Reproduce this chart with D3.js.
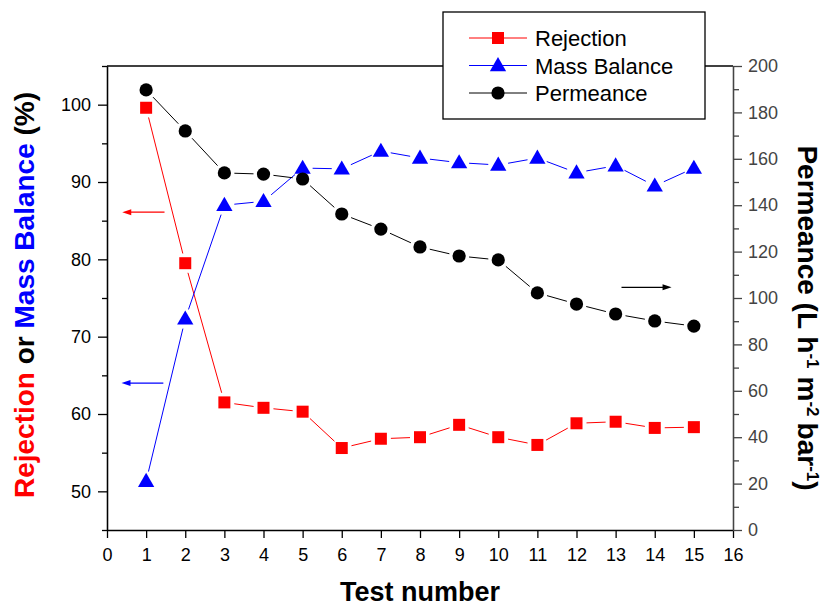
<!DOCTYPE html>
<html>
<head>
<meta charset="utf-8">
<script src="https://cdn.jsdelivr.net/npm/d3@7"></script>
<style>
    body { margin: 0; background: #fff; }
    text { font-family: Arial, "Liberation Sans", sans-serif; }
</style>
</head>
<body>
<div id="chart"></div>
<script>

// data
var testNumbers = [1, 2, 3, 4, 5, 6, 7, 8, 9, 10, 11, 12, 13, 14, 15];
var rejection   = [99.6, 79.5, 61.5, 60.8, 60.3, 55.6, 56.8, 57.0, 58.6, 57.0, 56.0, 58.8, 59.0, 58.2, 58.3];
var massBalance = [51.3, 72.3, 87.0, 87.5, 91.8, 91.7, 94.0, 93.1, 92.5, 92.2, 93.1, 91.2, 92.1, 89.5, 91.8];
var permeance   = [189.7, 172.0, 153.9, 153.4, 151.3, 136.2, 129.7, 122.0, 118.1, 116.4, 102.2, 97.4, 93.1, 90.1, 87.9];

var xTicks = [0, 1, 2, 3, 4, 5, 6, 7, 8, 9, 10, 11, 12, 13, 14, 15, 16];
var leftTicks = [50, 60, 70, 80, 90, 100];
var leftMinorTicks = [45, 55, 65, 75, 85, 95, 105];
var rightTicks = [0, 20, 40, 60, 80, 100, 120, 140, 160, 180, 200];
var rightMinorTicks = [10, 30, 50, 70, 90, 110, 130, 150, 170, 190];

var seriesNames = ["Rejection", "Mass Balance", "Permeance"];

// arrows pointing to the axis each series belongs to (data units)
var arrowX1 = [1.47, 1.44, 13.15];
var arrowX2 = [0.39, 0.37, 14.43];
var arrowY  = [86.1, 64.0, 104.6];

var vis = {};
vis.margin = { top: 66, right: 95, bottom: 77, left: 107 };
vis.width = 828 - vis.margin.left - vis.margin.right;
vis.height = 607 - vis.margin.top - vis.margin.bottom;

var svg = d3.select("#chart").append("svg")
    .attr("width", 828)
    .attr("height", 607);

var g = svg.append("g")
    .attr("transform", "translate(" + vis.margin.left + "," + vis.margin.top + ")");

// scales
var x = d3.scaleLinear().domain([0, 16]).range([0, vis.width]);
var yLeft = d3.scaleLinear().domain([45, 105]).range([vis.height, 0]);
var yRight = d3.scaleLinear().domain([0, 200]).range([vis.height, 0]);

// top frame line
g.append("line")
    .attr("x1", 0).attr("x2", vis.width)
    .attr("y1", 0).attr("y2", 0)
    .attr("stroke", "#000").attr("stroke-width", 1.3);

// bottom axis
var xAxis = g.append("g")
    .attr("transform", "translate(0," + vis.height + ")")
    .call(d3.axisBottom(x).tickValues(xTicks).tickSize(8).tickPadding(10).tickSizeOuter(0));

// left axis, minor then major
g.append("g")
    .call(d3.axisLeft(yLeft).tickValues(leftMinorTicks).tickSize(5).tickFormat("").tickSizeOuter(0));
var leftAxis = g.append("g")
    .call(d3.axisLeft(yLeft).tickValues(leftTicks).tickSize(9).tickPadding(7).tickSizeOuter(0));

// right axis
var rightColor = "#444";
g.append("g")
    .attr("transform", "translate(" + vis.width + ",0)")
    .call(d3.axisRight(yRight).tickValues(rightMinorTicks).tickSize(6).tickFormat("").tickSizeOuter(0))
    .selectAll("line,path").attr("stroke", rightColor);
var rightAxis = g.append("g")
    .attr("transform", "translate(" + vis.width + ",0)")
    .call(d3.axisRight(yRight).tickValues(rightTicks).tickSize(9).tickPadding(6).tickSizeOuter(0));
rightAxis.selectAll("line,path").attr("stroke", rightColor);
rightAxis.selectAll("text").attr("fill", rightColor);

g.selectAll(".domain").attr("stroke-width", 1.3);
g.selectAll(".tick line").attr("stroke-width", 1.3);
g.selectAll(".tick text")
    .style("font-family", "Arial, 'Liberation Sans', sans-serif")
    .style("font-size", "18px");

// lines with a small gap around each symbol
function gapSegments(xs, ys, yScale, gap) {
    var pts = xs.map(function(d, i) { return [x(d), yScale(ys[i])]; });
    var segs = [];
    for (var i = 0; i < pts.length - 1; i++) {
        var dx = pts[i + 1][0] - pts[i][0], dy = pts[i + 1][1] - pts[i][1];
        var len = Math.sqrt(dx * dx + dy * dy);
        if (len <= 2 * gap) continue;
        var ux = dx / len, uy = dy / len;
        segs.push([pts[i][0] + ux * gap, pts[i][1] + uy * gap,
                   pts[i + 1][0] - ux * gap, pts[i + 1][1] - uy * gap]);
    }
    return segs;
}

var series = [
    { values: rejection, scale: yLeft, color: "#ff0000", symbol: "square" },
    { values: massBalance, scale: yLeft, color: "#0000ff", symbol: "triangle" },
    { values: permeance, scale: yRight, color: "#000000", symbol: "circle" }
];

function drawSymbol(sel, type, color) {
    if (type === "square") {
        sel.append("rect")
            .attr("x", -6).attr("y", -6).attr("width", 12).attr("height", 12)
            .attr("fill", color);
    } else if (type === "triangle") {
        sel.append("path")
            .attr("d", d3.symbol().type(d3.symbolTriangle).size(115)())
            .attr("transform", "translate(0,1)")
            .attr("fill", color);
    } else {
        sel.append("circle").attr("r", 6.6).attr("fill", color);
    }
}

series.forEach(function(s) {
    var layer = g.append("g");
    layer.selectAll("line")
        .data(gapSegments(testNumbers, s.values, s.scale, 10))
        .enter().append("line")
        .attr("x1", function(d) { return d[0]; })
        .attr("y1", function(d) { return d[1]; })
        .attr("x2", function(d) { return d[2]; })
        .attr("y2", function(d) { return d[3]; })
        .attr("stroke", s.color)
        .attr("stroke-width", 1);

    layer.selectAll(".pt")
        .data(s.values)
        .enter().append("g")
        .attr("class", "pt")
        .attr("transform", function(d, i) { return "translate(" + x(testNumbers[i]) + "," + s.scale(d) + ")"; })
        .each(function() { drawSymbol(d3.select(this), s.symbol, s.color); });
});

// arrows
var arrowColors = ["#ff0000", "#0000ff", "#000000"];
var arrowScales = [yLeft, yLeft, yRight];
arrowX1.forEach(function(d, i) {
    var x1 = x(d), x2 = x(arrowX2[i]), yy = arrowScales[i](arrowY[i]);
    var dir = x2 > x1 ? 1 : -1;
    g.append("line")
        .attr("x1", x1).attr("x2", x2 - dir * 6)
        .attr("y1", yy).attr("y2", yy)
        .attr("stroke", arrowColors[i]).attr("stroke-width", 1.3);
    g.append("path")
        .attr("d", "M" + x2 + "," + yy + "L" + (x2 - dir * 9) + "," + (yy - 3) + "L" + (x2 - dir * 9) + "," + (yy + 3) + "Z")
        .attr("fill", arrowColors[i]);
});

// axis titles
svg.append("text")
    .attr("x", 420).attr("y", 601)
    .attr("text-anchor", "middle")
    .style("font-size", "27px").style("font-weight", "bold")
    .text("Test number");

var leftTitle = svg.append("text")
    .attr("transform", "translate(34,295) rotate(-90)")
    .attr("text-anchor", "middle")
    .style("font-size", "28px").style("font-weight", "bold");
leftTitle.append("tspan").attr("fill", "#ff0000").text("Rejection");
leftTitle.append("tspan").attr("fill", "#000").text(" or ");
leftTitle.append("tspan").attr("fill", "#0000ff").text("Mass Balance");
leftTitle.append("tspan").attr("fill", "#000").text(" (%)");

var rightTitle = svg.append("text")
    .attr("transform", "translate(798,318) rotate(90)")
    .attr("text-anchor", "middle")
    .style("font-size", "28px").style("font-weight", "bold");
rightTitle.append("tspan").text("Permeance (L h");
rightTitle.append("tspan").attr("baseline-shift", "super").style("font-size", "17px").text("-1");
rightTitle.append("tspan").attr("dx", 8).text("m");
rightTitle.append("tspan").attr("baseline-shift", "super").style("font-size", "17px").text("-2");
rightTitle.append("tspan").attr("dx", 6).text("bar");
rightTitle.append("tspan").attr("baseline-shift", "super").style("font-size", "17px").text("-1");
rightTitle.append("tspan").text(")");

// legend
var legend = svg.append("g");
legend.append("rect")
    .attr("x", 443).attr("y", 12).attr("width", 262).attr("height", 107)
    .attr("fill", "#fff").attr("stroke", "#000").attr("stroke-width", 1.3);

seriesNames.forEach(function(name, i) {
    var row = legend.append("g").attr("transform", "translate(0," + (38 + i * 27.5) + ")");
    row.append("line")
        .attr("x1", 469).attr("x2", 527)
        .attr("stroke", series[i].color).attr("stroke-width", 1);
    var sym = row.append("g").attr("transform", "translate(498,0)");
    drawSymbol(sym, series[i].symbol, series[i].color);
    row.append("text")
        .attr("x", 535).attr("y", 8)
        .style("font-size", "22px")
        .text(name);
});

</script>
</body>
</html>
